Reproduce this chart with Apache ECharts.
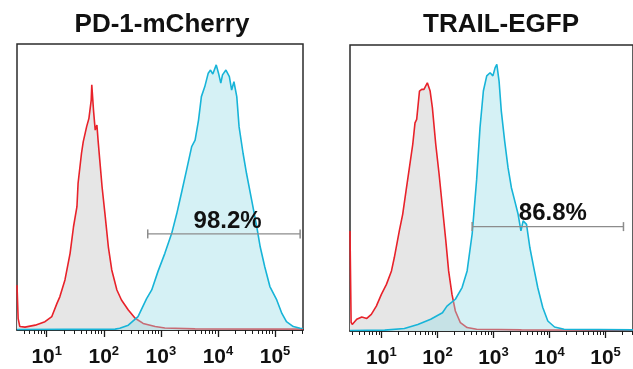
<!DOCTYPE html>
<html>
<head>
<meta charset="utf-8">
<script src="https://cdn.jsdelivr.net/npm/echarts@6/dist/echarts.min.js"></script>
<style>
  html, body { margin: 0; padding: 0; background: #fff; }
  #chart { width: 633px; height: 369px; }
</style>
</head>
<body>
<div id="chart"></div>
<script>
// x values are log10 of fluorescence, y is relative count (0..100 = frame height)
const pdControl = [
  [0.48, 15.7], [0.50, 4], [0.53, 1.2], [0.62, 1.0], [0.80, 1.7], [0.97, 2.9], [1.09, 4.7],
  [1.18, 9.3], [1.23, 11.6], [1.32, 17.5], [1.41, 26.8], [1.47, 36.1], [1.53, 43.1], [1.55, 51.3],
  [1.61, 61.8], [1.64, 65.8], [1.70, 71.1], [1.74, 74.0], [1.78, 80.4], [1.79, 85.7], [1.82, 76.9],
  [1.85, 69.9], [1.88, 71.7], [1.90, 66.4], [1.93, 59.4], [1.97, 50.1], [2.02, 40.8], [2.08, 29.1],
  [2.14, 21.0], [2.23, 14.0], [2.31, 10.5], [2.43, 7.0], [2.55, 4.1], [2.69, 2.3], [2.90, 1.2],
  [3.07, 0.7], [3.60, 0.4], [5.49, 0.3]
]
const pdCherry = [
  [0.48, 0.2], [2.20, 0.3], [2.28, 0.6], [2.43, 1.7], [2.60, 4.7], [2.75, 11.0], [2.84, 14.0],
  [2.95, 20.5], [3.07, 26.8], [3.19, 33.8], [3.28, 40.8], [3.36, 47.8], [3.45, 55.9], [3.54, 64.1],
  [3.60, 66.4], [3.66, 73.4], [3.71, 81.6], [3.77, 85.1], [3.83, 89.8], [3.87, 90.9], [3.91, 89.5],
  [3.97, 92.7], [4.01, 89.8], [4.05, 86.3], [4.08, 89.2], [4.14, 90.9], [4.20, 88.6], [4.24, 83.9],
  [4.28, 86.8], [4.33, 81.6], [4.37, 71.1], [4.44, 61.8], [4.50, 54.8], [4.59, 45.5], [4.68, 36.1],
  [4.74, 29.1], [4.82, 22.1], [4.91, 15.2], [5.03, 10.5], [5.12, 5.8], [5.20, 2.9], [5.32, 1.2],
  [5.44, 0.6], [5.49, 0.5]
]
const trailControl = [
  [0.44, 35], [0.46, 3.0], [0.48, 2.3], [0.56, 4.1], [0.65, 4.9], [0.74, 4.4], [0.82, 5.8],
  [0.91, 8.7], [1.00, 12.8], [1.09, 16.3], [1.18, 21.0], [1.23, 25.6], [1.32, 35.0], [1.38, 40.8],
  [1.44, 49.0], [1.50, 57.1], [1.56, 65.3], [1.60, 72.8], [1.63, 74.0], [1.68, 83.9], [1.72, 84.5],
  [1.76, 84.5], [1.82, 86.8], [1.87, 83.9], [1.91, 78.1], [1.97, 65.3], [2.03, 54.8], [2.09, 43.1],
  [2.15, 31.5], [2.20, 21.0], [2.26, 12.8], [2.32, 7.0], [2.41, 2.9], [2.53, 1.2], [2.70, 0.6],
  [3.50, 0.4], [5.49, 0.3]
]
const trailEgfp = [
  [0.44, 0.2], [1.06, 0.3], [1.41, 0.9], [1.65, 2.3], [1.88, 4.1], [2.09, 6.4], [2.17, 8.7],
  [2.32, 11.1], [2.44, 15.2], [2.53, 21.0], [2.62, 34.0], [2.70, 53.0], [2.76, 71.1], [2.82, 83.9],
  [2.88, 89.2], [2.94, 90.3], [2.99, 89.2], [3.03, 92.1], [3.06, 93.2], [3.10, 87.4], [3.14, 76.9],
  [3.20, 66.4], [3.26, 57.1], [3.32, 50.1], [3.38, 45.5], [3.44, 40.8], [3.49, 35.0], [3.53, 38.5],
  [3.59, 37.3], [3.65, 29.1], [3.72, 22.1], [3.79, 15.2], [3.88, 8.2], [3.97, 3.5], [4.09, 1.4],
  [4.26, 0.6], [5.49, 0.4]
]

const titles = ['PD-1-mCherry', 'TRAIL-EGFP']
const gates = [[2.77, 5.44], [2.62, 5.32]]
const gateLevels = [33.6, 36.5]
const gateTexts = ['98.2%', '86.8%']
const gateTextPos = [[4.17, 38], [4.06, 41]]

const majorTicks = [1, 2, 3, 4, 5]
const minorTicks = []
for (let n = 0; n < 6; n++) {
  for (let k = 2; k <= 9; k++) minorTicks.push(n + Math.log10(k))
}

const FONT = 'Liberation Sans, Arial, sans-serif'
const panels = [
  { left: 17, top: 44, bottom: 39, width: 286, min: 0.48, max: 5.49, control: pdControl, sample: pdCherry, titleX: 162 },
  { left: 350, top: 45, bottom: 38, width: 286, min: 0.44, max: 5.49, control: trailControl, sample: trailEgfp, titleX: 501 }
]

const grid = [], xAxis = [], yAxis = [], series = [], graphic = []

panels.forEach((p, i) => {
  grid.push({
    left: p.left, top: p.top, bottom: p.bottom, width: p.width,
    show: true, borderColor: '#2b2b2b', borderWidth: 1.5, backgroundColor: 'transparent'
  })
  // major ticks + labels
  xAxis.push({
    type: 'value', gridIndex: i, position: 'bottom', min: p.min, max: p.max,
    axisLine: { show: true, onZero: false, lineStyle: { color: '#1a1a1a', width: 1.5 } },
    axisTick: { show: true, customValues: majorTicks, length: 7, lineStyle: { color: '#1a1a1a', width: 1.3 } },
    splitLine: { show: false },
    axisLabel: {
      customValues: majorTicks, margin: 15,
      formatter: v => '{b|10}{s|' + v + '}',
      rich: {
        b: { fontSize: 21, fontWeight: 'bold', fontFamily: FONT, color: '#111', lineHeight: 24 },
        s: { fontSize: 13, fontWeight: 'bold', fontFamily: FONT, color: '#111', verticalAlign: 'top', lineHeight: 14 }
      }
    }
  })
  // minor ticks
  xAxis.push({
    type: 'value', gridIndex: i, position: 'bottom', min: p.min, max: p.max,
    axisLine: { show: false, onZero: false },
    axisTick: { show: true, customValues: minorTicks.filter(v => v >= p.min && v <= p.max), length: 4, lineStyle: { color: '#1a1a1a', width: 1 } },
    axisLabel: { show: false },
    splitLine: { show: false }
  })
  yAxis.push({ type: 'value', gridIndex: i, min: 0, max: 100, show: false })

  series.push({
    type: 'line', xAxisIndex: 2 * i, yAxisIndex: i, data: p.control,
    symbol: 'none', silent: true, animation: false, z: 2,
    lineStyle: { color: '#e8222a', width: 1.6 },
    areaStyle: { color: '#e6e6e6', opacity: 1 }
  })
  series.push({
    type: 'line', xAxisIndex: 2 * i, yAxisIndex: i, data: p.sample,
    symbol: 'none', silent: true, animation: false, z: 3,
    lineStyle: { color: '#17b4d8', width: 1.6 },
    areaStyle: { color: 'rgba(150,220,230,0.4)', opacity: 1 }
  })
  series.push({
    type: 'line', xAxisIndex: 2 * i, yAxisIndex: i,
    data: gates[i].map(x => [x, gateLevels[i]]),
    symbol: 'rect', symbolSize: [1.5, 9], showSymbol: true, silent: true, animation: false, z: 4,
    itemStyle: { color: '#8c8c8c' },
    lineStyle: { color: '#8c8c8c', width: 1.3 }
  })
  series.push({
    type: 'scatter', xAxisIndex: 2 * i, yAxisIndex: i,
    data: [gateTextPos[i]], symbolSize: 0, silent: true, animation: false, z: 5,
    itemStyle: { opacity: 1 },
    label: {
      show: true, position: 'inside', formatter: gateTexts[i], opacity: 1,
      fontSize: 24, fontWeight: 'bold', fontFamily: FONT, color: '#111'
    }
  })
  graphic.push({
    type: 'text', x: p.titleX, y: 25,
    style: {
      text: titles[i], fontSize: 26, fontWeight: 'bold', fontFamily: FONT,
      fill: '#111', textAlign: 'center', textVerticalAlign: 'middle'
    }
  })
})

const chart = echarts.init(document.getElementById('chart'))
chart.setOption({
  backgroundColor: '#fff',
  animation: false,
  grid, xAxis, yAxis, series, graphic
})
</script>
</body>
</html>
